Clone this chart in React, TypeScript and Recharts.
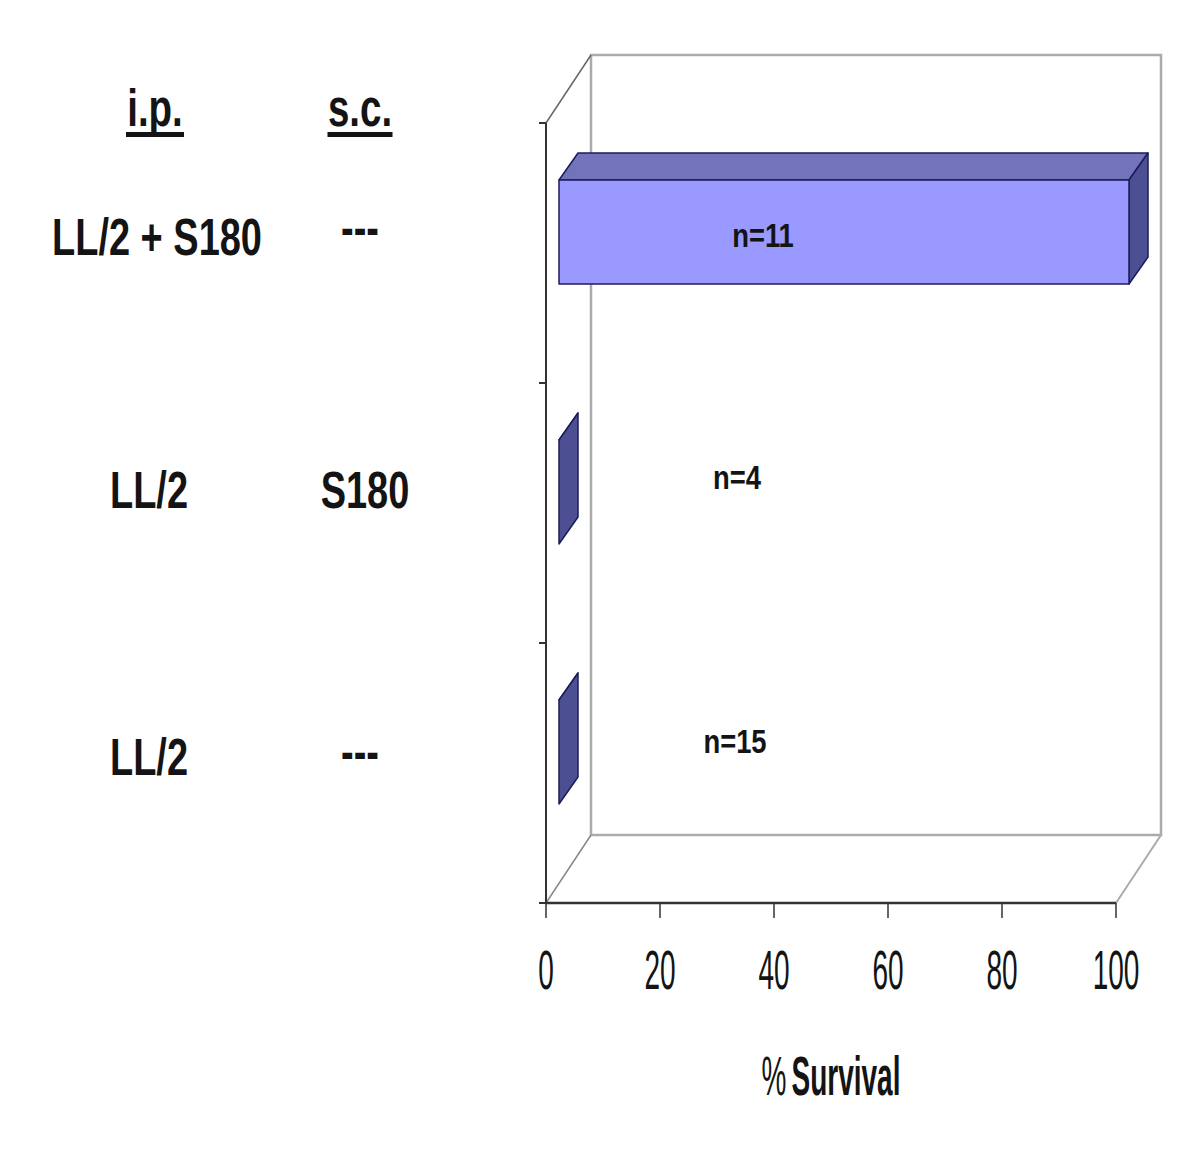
import { BarChart, Bar, XAxis, YAxis, ReferenceArea, LabelList } from 'recharts';

const ipLabels = ['LL/2 + S180', 'LL/2', 'LL/2'];
const scLabels = ['---', 'S180', '---'];
const survival = [100, 0, 0];
const groupSizes = ['n=11', 'n=4', 'n=15'];
const survivalTicks = [0, 20, 40, 60, 80, 100];

const chartData = ipLabels.map((ip, i) => ({
  group: `${ip} | ${scLabels[i]}`,
  survival: survival[i],
  n: groupSizes[i],
}));

const FONT = '"Liberation Sans", Arial, sans-serif';
const INK = '#141414';
const WALL = '#ababab';
const AXIS = '#333333';

// fake 3D depth of the old spreadsheet chart
const WALL_DX = 45;
const WALL_DY = -68;
const BAR_X = 13;
const BAR_Y = -21;
const BAR_DX = 19;
const BAR_DY = -27;

// the picture is squashed horizontally, so text gets its own x scale
const squeezed = (x: number, y: number, sx: number) => `translate(${x},${y}) scale(${sx},1)`;

const ipCenter = [157, 149, 149];
const scCenter = [360, 365, 360];
const rowBaseline = [2, -5, 2];
const scBaseline = [-8, -5, -4];
const nShift = [
  { x: 217, y: -6 },
  { x: 191, y: -24 },
  { x: 189, y: -20 },
];

const Walls = ({ x, y, width, height }: any) => {
  const right = x + width;
  const bottom = y + height;
  const band = height / chartData.length;
  return (
    <g fill="none">
      <rect x={x + WALL_DX} y={y + WALL_DY} width={width} height={height} stroke={WALL} strokeWidth={2.5} fill="#fff" />
      <path d={`M${x} ${y}L${x + WALL_DX} ${y + WALL_DY}`} stroke="#666" strokeWidth={1.5} />
      <path d={`M${x} ${bottom}L${x + WALL_DX} ${bottom + WALL_DY}`} stroke="#888" strokeWidth={1.5} />
      <path d={`M${right} ${bottom}L${right + WALL_DX} ${bottom + WALL_DY}`} stroke={WALL} strokeWidth={2} />
      {[0, 1, 2, 3].map((i) => (
        <line key={i} x1={x - 7} x2={x} y1={y + band * i} y2={y + band * i} stroke={AXIS} strokeWidth={2} />
      ))}
    </g>
  );
};

const Bar3D = ({ x, y, width, height }: any) => {
  const fx = x + BAR_X;
  const fy = y + BAR_Y;
  const edge = { stroke: '#1c1c5c', strokeWidth: 1.5, strokeLinejoin: 'round' as const };
  return (
    <g>
      <polygon
        points={`${fx},${fy} ${fx + BAR_DX},${fy + BAR_DY} ${fx + width + BAR_DX},${fy + BAR_DY} ${fx + width},${fy}`}
        fill="#7373bb"
        {...edge}
      />
      <polygon
        points={`${fx + width},${fy} ${fx + width + BAR_DX},${fy + BAR_DY} ${fx + width + BAR_DX},${fy + height + BAR_DY} ${fx + width},${fy + height}`}
        fill="#4c5092"
        {...edge}
      />
      {width > 0 && <rect x={fx} y={fy} width={width} height={height} fill="#9999ff" {...edge} />}
    </g>
  );
};

const GroupTick = ({ y, payload, index }: any) => {
  const i = index ?? chartData.findIndex((d) => d.group === payload.value);
  return (
    <g fontFamily={FONT} fontWeight="bold" fontSize={52} fill={INK} textAnchor="middle">
      <text transform={squeezed(ipCenter[i], y + rowBaseline[i], 0.73)}>{ipLabels[i]}</text>
      <text transform={squeezed(scCenter[i], y + scBaseline[i], 0.73)}>{scLabels[i]}</text>
    </g>
  );
};

const SurvivalTick = ({ x, y, payload }: any) => (
  <text
    transform={squeezed(x, y + 69, 0.5)}
    fontFamily={FONT}
    fontSize={56}
    fill={INK}
    textAnchor="middle"
  >
    {payload.value}
  </text>
);

const SizeLabel = ({ y, height, value, index }: any) => (
  <text
    transform={squeezed(546 + nShift[index].x, y + height / 2 + nShift[index].y, 0.83)}
    fontFamily={FONT}
    fontWeight="bold"
    fontSize={33}
    fill={INK}
    textAnchor="middle"
  >
    {value}
  </text>
);

const AxisTitle = ({ viewBox }: any) => (
  <text
    transform={squeezed(viewBox.x + viewBox.width / 2, viewBox.y + 192, 0.5)}
    fontFamily={FONT}
    fontSize={56}
    fill={INK}
    textAnchor="middle"
  >
    <tspan>%</tspan>
    <tspan fontWeight="bold" dx={10}>Survival</tspan>
  </text>
);

const Header = ({ label, x, underline }: { label: string; x: number; underline: number }) => (
  <>
    <text transform={squeezed(x, 126, 0.74)} fontFamily={FONT} fontWeight="bold" fontSize={52} fill={INK} textAnchor="middle">
      {label}
    </text>
    <rect x={x - underline / 2} y={132} width={underline} height={5} fill={INK} />
  </>
);

export default function App() {
  return (
    <div style={{ position: 'absolute', left: 0, top: 0, width: 1200, height: 1152, background: '#fff' }}>
      <svg width={1200} height={1152} style={{ position: 'absolute', left: 0, top: 0 }}>
        <Header label="i.p." x={155} underline={58} />
        <Header label="s.c." x={360} underline={65} />
      </svg>
      <div style={{ position: 'absolute', left: 0, top: 0 }}>
        <BarChart
          width={1200}
          height={1152}
          data={chartData}
          layout="vertical"
          margin={{ top: 123, right: 84, bottom: 149, left: 0 }}
          style={{ overflow: 'visible' }}
        >
          <ReferenceArea x1={0} x2={100} shape={<Walls />} ifOverflow="visible" />
          <XAxis
            type="number"
            domain={[0, 100]}
            ticks={survivalTicks}
            height={100}
            tickSize={15}
            tick={<SurvivalTick />}
            axisLine={{ stroke: AXIS, strokeWidth: 2.5 }}
            tickLine={{ stroke: AXIS, strokeWidth: 1.5 }}
            label={<AxisTitle />}
          />
          <YAxis
            type="category"
            dataKey="group"
            width={546}
            tick={<GroupTick />}
            tickLine={false}
            axisLine={{ stroke: AXIS, strokeWidth: 2 }}
          />
          <Bar dataKey="survival" barSize={104} shape={<Bar3D />} isAnimationActive={false}>
            <LabelList dataKey="n" content={<SizeLabel />} />
          </Bar>
        </BarChart>
      </div>
    </div>
  );
}
